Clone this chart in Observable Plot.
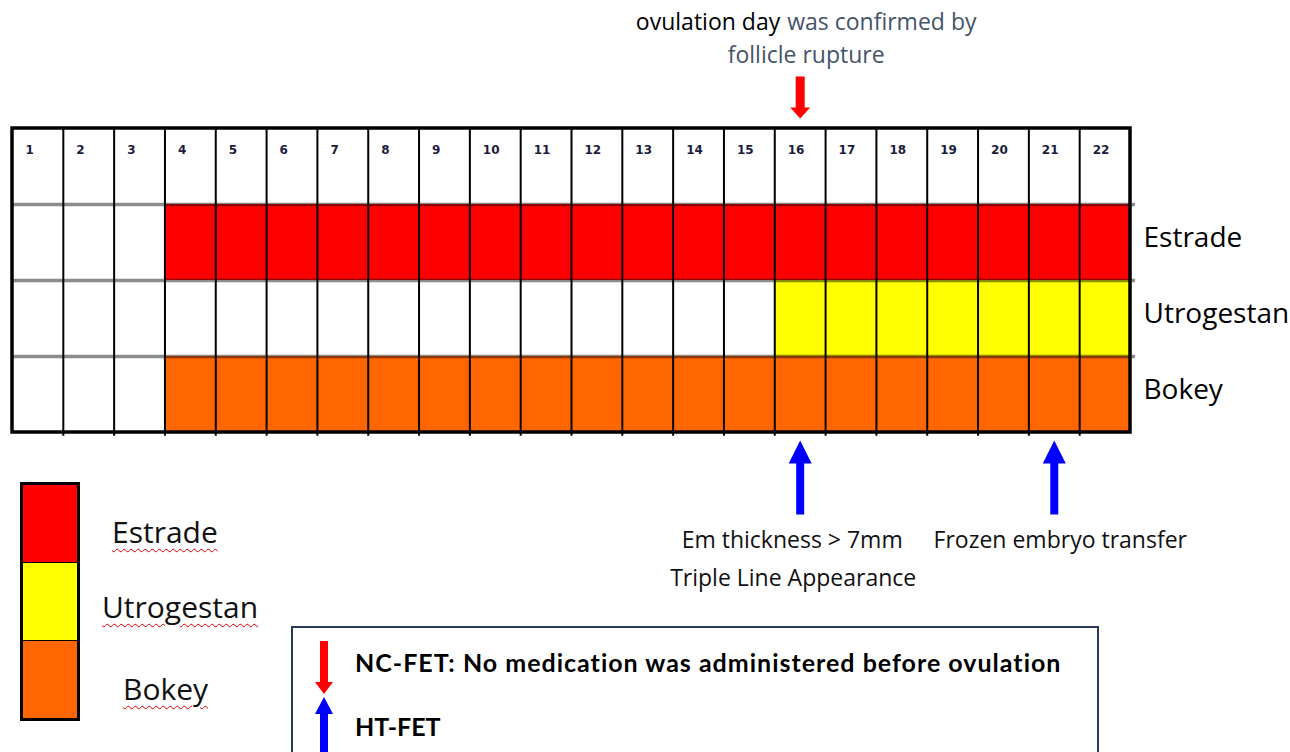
<!DOCTYPE html>
<html>
<head>
<meta charset="utf-8">
<script src="https://cdn.jsdelivr.net/npm/d3@7"></script>
<script src="https://cdn.jsdelivr.net/npm/@observablehq/plot@0.6"></script>
<style>
  html, body { margin: 0; padding: 0; background: #fff; }
  #wrap { position: relative; width: 1290px; height: 752px; overflow: hidden; }
  #wrap > svg { display: block; position: absolute; left: 0; top: 0; }
  .lg { position: absolute; font-family: "Open Sans", sans-serif; color: #111; white-space: nowrap;
        text-decoration: underline wavy #e00000; text-decoration-thickness: 1px; text-underline-offset: 5px; }
  #swatch { position: absolute; left: 20px; top: 482px; width: 54px; border: 3px solid #000; }
  #swatch div { height: 77px; border-bottom: 1px solid #000; }
  #swatch div:last-child { border-bottom: none; }
  #keybox { position: absolute; left: 291px; top: 626px; width: 804px; height: 200px; border: 2px solid #2b3b5c; }
  .kt { position: absolute; left: 62px; font-family: Lato, "Open Sans", sans-serif; font-weight: 700; font-size: 25px; color: #000; white-space: nowrap; }
</style>
</head>
<body>
<div id="wrap"></div>
<script>
// ---- data ----
const days = [1, 2, 3, 4, 5, 6, 7, 8, 9, 10, 11, 12, 13, 14, 15, 16, 17, 18, 19, 20, 21, 22];
const drugs = ["Estrade", "Utrogestan", "Bokey"];
const drugColors = ["#ff0000", "#ffff00", "#ff6600"];
const drugStart = [4, 16, 4];
const drugEnd = [22, 22, 22];
const ovulationDay = 16;
const ovulationText = ["ovulation day", "was confirmed by", "follicle rupture"];
const htFetDays = [16, 21];
const htFetNotes = ["Em thickness > 7mm", "Frozen embryo transfer"];
const htFetNotes2 = ["Triple Line Appearance"];
const keyTexts = ["NC-FET: No medication was administered before ovulation", "HT-FET"];

// ---- derived table ----
const cells = drugs.flatMap((drug, i) =>
  days.map(day => ({
    drug, row: i, day,
    fill: day >= drugStart[i] && day <= drugEnd[i] ? drugColors[i] : "#ffffff"
  }))
);
const inner = days.slice(0, -1).map(d => d + 0.5);

// arrow shapes (tip at origin)
const upArrow = (hw, hl, sw, sl) => ({
  draw(ctx) {
    ctx.moveTo(0, 0); ctx.lineTo(hw / 2, hl); ctx.lineTo(sw / 2, hl); ctx.lineTo(sw / 2, hl + sl);
    ctx.lineTo(-sw / 2, hl + sl); ctx.lineTo(-sw / 2, hl); ctx.lineTo(-hw / 2, hl); ctx.closePath();
  }
});
const downArrow = (hw, hl, sw, sl) => ({
  draw(ctx) {
    ctx.moveTo(0, 0); ctx.lineTo(hw / 2, -hl); ctx.lineTo(sw / 2, -hl); ctx.lineTo(sw / 2, -hl - sl);
    ctx.lineTo(-sw / 2, -hl - sl); ctx.lineTo(-sw / 2, -hl); ctx.lineTo(-hw / 2, -hl); ctx.closePath();
  }
});

const F = "'Open Sans', sans-serif";

const chart = Plot.plot({
  width: 1290,
  height: 752,
  margin: 0,
  x: { domain: [0.5, 22.5], range: [12, 1130], axis: null },
  y: { domain: [0, 4], range: [128, 432], axis: null },
  color: { type: "identity" },
  style: { background: "transparent", overflow: "visible" },
  marks: [
    Plot.rect(cells, {
      x1: d => d.day - 0.5, x2: d => d.day + 0.5,
      y1: d => d.row + 1, y2: d => d.row + 2,
      fill: "fill", inset: 0
    }),
    Plot.ruleY([1, 2, 3], { x1: 0.5, x2: 22.6, stroke: "#000", strokeOpacity: 0.45, strokeWidth: 3.5 }),
    Plot.ruleX(inner, { y1: 0, y2: 4.05, stroke: "#000", strokeWidth: 2 }),
    Plot.rect([0], { x1: 0.5, x2: 22.5, y1: 0, y2: 4, fill: "none", stroke: "#000", strokeWidth: 3.5 }),
    // day numbers
    Plot.text(days, {
      x: d => d - 0.5, y: 0.29, dx: 13, text: d => String(d),
      textAnchor: "start", fontSize: 12, fontWeight: "bold",
      fontFamily: "DejaVu Sans", fill: "#1c1c3c"
    }),
    // row labels
    Plot.text(drugs, {
      x: 22.5, y: (d, i) => i + 1.5, dx: 13, dy: -4, text: d => d,
      textAnchor: "start", fontSize: 28, fontFamily: F, fill: "#000"
    }),
    // ovulation annotation
    Plot.text([ovulationText[0]], {
      x: ovulationDay, y: -1.39, dx: -20, text: d => d, textAnchor: "end",
      fontSize: 23, fontFamily: F, fill: "#000"
    }),
    Plot.text([ovulationText[1]], {
      x: ovulationDay, y: -1.39, dx: -13, text: d => d, textAnchor: "start",
      fontSize: 23, fontFamily: F, fill: "#44546a"
    }),
    Plot.text([ovulationText[2]], {
      x: ovulationDay, y: -0.96, dx: 6, text: d => d, textAnchor: "middle",
      fontSize: 23, fontFamily: F, fill: "#44546a"
    }),
    Plot.dot([ovulationDay], {
      x: d => d, y: -0.13, symbol: downArrow(20, 11, 9, 31), fill: "#ff0000", stroke: "none"
    }),
    // HT-FET arrows
    Plot.dot(htFetDays, {
      x: d => d, y: 4.105, symbol: upArrow(23, 23, 8, 51), fill: "#0000ff", stroke: "none"
    }),
    Plot.text([htFetNotes[0]], {
      x: htFetDays[0], y: 5.42, dx: -8, text: d => d,
      textAnchor: "middle", fontSize: 23, fontFamily: F, fill: "#111"
    }),
    Plot.text([htFetNotes[1]], {
      x: htFetDays[1], y: 5.42, dx: 6, text: d => d,
      textAnchor: "middle", fontSize: 23, fontFamily: F, fill: "#111"
    }),
    Plot.text(htFetNotes2, {
      x: htFetDays[0], y: 5.92, dx: -7, text: d => d,
      textAnchor: "middle", fontSize: 23, fontFamily: F, fill: "#111"
    })
  ]
});

const wrap = document.getElementById("wrap");
wrap.appendChild(chart);

// legend swatches
const sw = document.createElement("div");
sw.id = "swatch";
drugColors.forEach(c => {
  const b = document.createElement("div");
  b.style.background = c;
  sw.appendChild(b);
});
wrap.appendChild(sw);
const lgPos = [[112, 511], [102, 586], [123, 668]];
drugs.forEach((d, i) => {
  const s = document.createElement("span");
  s.className = "lg";
  s.textContent = d;
  s.style.left = lgPos[i][0] + "px";
  s.style.top = lgPos[i][1] + "px";
  s.style.fontSize = "30px";
  wrap.appendChild(s);
});

// key box
const kb = document.createElement("div");
kb.id = "keybox";
kb.innerHTML = `
<svg width="60" height="130" style="position:absolute;left:18px;top:0">
  <path d="M9 13 h8 v41 h5 l-9 12 l-9 -12 h5 z" fill="#ff0000"/>
  <path d="M13 69 l9 17 h-5 v60 h-8 v-60 h-5 z" fill="#0000ff"/>
</svg>
<div class="kt" style="top:19px;letter-spacing:1px">${keyTexts[0]}</div>
<div class="kt" style="top:83px">${keyTexts[1]}</div>`;
wrap.appendChild(kb);
</script>
</body>
</html>
